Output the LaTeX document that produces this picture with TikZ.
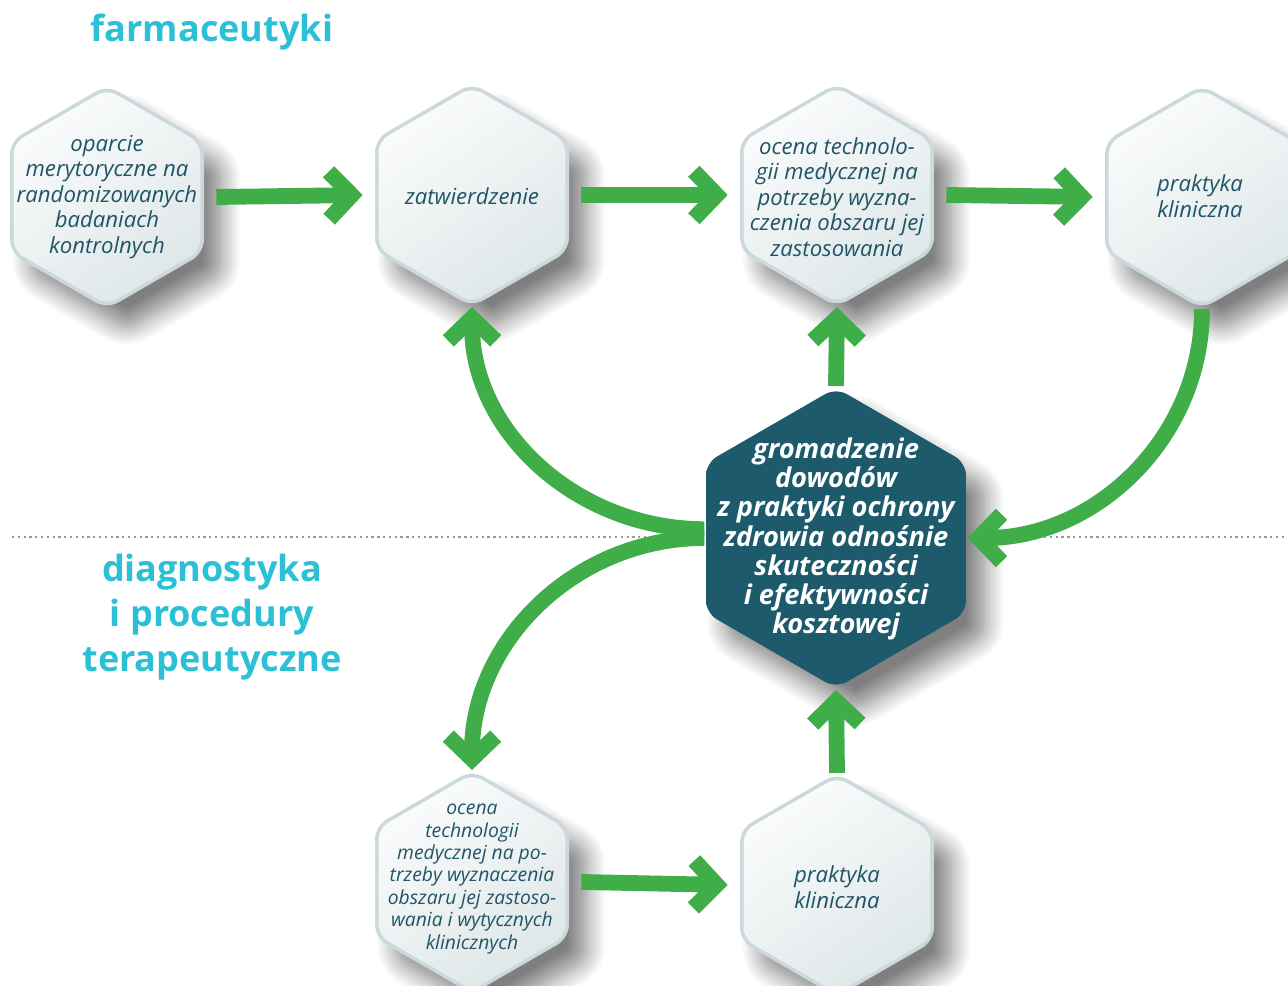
\documentclass[tikz,border=0pt]{standalone}
\usepackage{fontspec}
\setmainfont{Open Sans}
\usetikzlibrary{shapes.geometric,arrows.meta,shadows.blur}

\definecolor{arrowgreen}{HTML}{3FAE49}
\definecolor{hexdark}{HTML}{1D5A6C}
\definecolor{hextext}{HTML}{1F5566}
\definecolor{titlecyan}{HTML}{2CC0D6}
\definecolor{hexborder}{HTML}{CCD9DC}

\tikzset{
  hexbox/.style={regular polygon, regular polygon sides=6, shape border rotate=30,
    minimum size=4.4cm, inner sep=0pt, rounded corners=7pt, draw=hexborder, line width=2pt,
    top color=white!60!hexborder!20, bottom color=hexborder!65!white, shading angle=35,
    blur shadow={shadow xshift=11pt, shadow yshift=-13pt, shadow blur steps=14, shadow blur radius=11pt, shadow opacity=50}},
  hexcore/.style={hexbox, minimum size=6cm, draw=none, fill=hexdark, shading=, top color=hexdark, bottom color=hexdark},
  hextxt/.style={text=hextext, font=\itshape\fontsize{12.6}{14.5}\selectfont, align=center, inner sep=0pt},
  coretxt/.style={text=white, font=\bfseries\itshape\fontsize{15.5}{16.6}\selectfont, align=center, inner sep=0pt},
  title/.style={text=titlecyan, font=\bfseries\fontsize{20.5}{25.5}\selectfont, align=center, inner sep=0pt},
  flow/.style={draw=arrowgreen, line width=9pt, -{Straight Barb[length=13pt, width=27pt, sharp]}}
}

\begin{document}
\begin{tikzpicture}[x=0.02cm, y=-0.02cm]
  \useasboundingbox (0,0) rectangle (1288,986);

  % titles and separator
  \node[title] (farm) at (212,32) {farmaceutyki};
  \node[title] (diag) at (212,617) {diagnostyka\\i procedury\\terapeutyczne};
  \coordinate (sepl) at (12,537);
  \coordinate (sepr) at (1288,537);
  \draw[black!40, line width=1.3pt, dotted] (sepl) -- (sepr);

  % hexagons
  \node[hexbox] (h1) at (107,197) {};
  \node[hexbox] (h2) at (472,195) {};
  \node[hexbox] (h3) at (837,195) {};
  \node[hexbox] (h4) at (1202,197) {};
  \node[hexcore] (h0) at (836,538) {};
  \node[hexbox] (h5) at (472,882) {};
  \node[hexbox] (h6) at (837,885) {};

  % texts
  \node[hextxt] (t1) at (107,197) {oparcie\\merytoryczne na\\randomizowanych\\badaniach\\kontrolnych};
  \node[hextxt] (t2) at (472,196) {zatwierdzenie};
  \node[hextxt] (t3) at (837,197) {ocena technolo-\\gii medycznej na\\potrzeby wyzna-\\czenia obszaru jej\\zastosowania};
  \node[hextxt] (t4) at (1200,196) {praktyka\\kliniczna};
  \node[coretxt] (t0) at (836,539) {gromadzenie\\dowodów\\z praktyki ochrony\\zdrowia odnośnie\\skuteczności\\i efektywności\\kosztowej};
  \node[hextxt, font=\itshape\fontsize{11}{12.75}\selectfont] (t5) at (472,879) {ocena\\technologii\\medycznej na po-\\trzeby wyznaczenia\\obszaru jej zastoso-\\wania i wytycznych\\klinicznych};
  \node[hextxt] (t6) at (837,887) {praktyka\\kliniczna};

  % arrows
  \draw[flow] ([xshift=7pt]h1.east) -- ([xshift=-7pt]h2.west);
  \draw[flow] ([xshift=7pt]h2.east) -- ([xshift=-7pt]h3.west);
  \draw[flow] ([xshift=7pt]h3.east) -- ([xshift=-7pt]h4.west);
  \draw[flow] ([xshift=7pt]h5.east) -- ([xshift=-7pt]h6.west);
  \draw[flow] (h0.north) -- (h3.south);
  \draw[flow] (h6.north) -- (h0.south);
  \draw[flow] ([yshift=5pt]h0.west) to[out=180, in=-90] (h2.south);
  \draw[flow] (h0.west) to[out=180, in=90] (h5.north);
  \draw[flow] (h4.south) to[out=-90, in=0] (h0.east);
\end{tikzpicture}
\end{document}
